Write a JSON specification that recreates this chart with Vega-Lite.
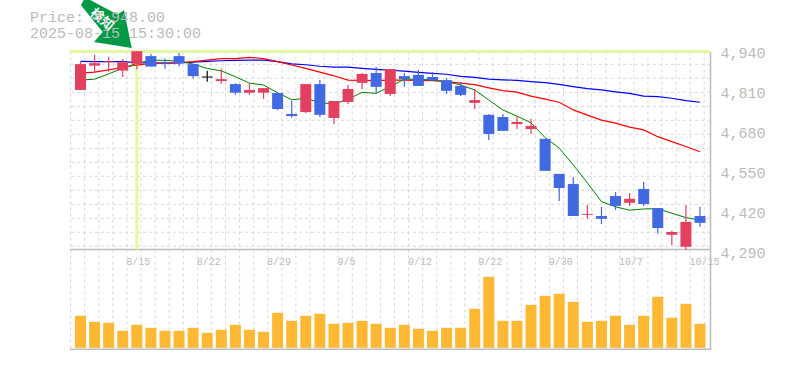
{"$schema":"https://vega.github.io/schema/vega-lite/v6.json","autosize":"none","width":640,"height":298,"padding":{"left":70,"top":51.5,"right":75,"bottom":20.5},"background":"white","title":{"text":["Price: 4,948.00","2025-08-15 15:30:00"],"anchor":"start","frame":"group","dx":-40,"offset":-44,"font":"Liberation Mono","fontSize":15,"fontWeight":"normal","color":"#bbbbbb","lineHeight":16},"config":{"view":{"stroke":null}},"datasets":{"d":[{"i":0,"date":"8/8","o":4819,"c":4903,"h":4910,"l":4819,"dir":"up","g":4851,"r":4874,"b":4912,"v":320000},{"i":1,"date":"8/12","o":4898,"c":4906,"h":4933,"l":4875,"dir":"up","g":4854,"r":4877,"b":4911,"v":260000},{"i":2,"date":"8/13","o":4909,"c":4912,"h":4927,"l":4878,"dir":"up","g":4871,"r":4884,"b":4911,"v":250000},{"i":3,"date":"8/14","o":4882,"c":4909,"h":4920,"l":4861,"dir":"up","g":4890,"r":4892,"b":4911,"v":170000},{"i":4,"date":"8/15","o":4904,"c":4945,"h":4945,"l":4886,"dir":"up","g":4905,"r":4900,"b":4908,"v":230000},{"i":5,"date":"8/18","o":4929,"c":4895,"h":4936,"l":4895,"dir":"down","g":4916,"r":4905,"b":4907,"v":200000},{"i":6,"date":"8/19","o":4910,"c":4906,"h":4922,"l":4888,"dir":"down","g":4915,"r":4906,"b":4906,"v":170000},{"i":7,"date":"8/20","o":4929,"c":4906,"h":4939,"l":4895,"dir":"down","g":4913,"r":4908,"b":4907,"v":170000},{"i":8,"date":"8/21","o":4903,"c":4864,"h":4903,"l":4856,"dir":"down","g":4903,"r":4911,"b":4909,"v":200000},{"i":9,"date":"8/22","o":4862.6,"c":4859.4,"h":4881,"l":4846,"dir":"flat","g":4889,"r":4916,"b":4912,"v":150000},{"i":10,"date":"8/25","o":4848,"c":4854,"h":4889,"l":4839,"dir":"up","g":4881,"r":4921,"b":4914,"v":180000},{"i":11,"date":"8/26","o":4838,"c":4810,"h":4841,"l":4803,"dir":"down","g":4862,"r":4921,"b":4915,"v":230000},{"i":12,"date":"8/27","o":4810,"c":4819,"h":4841,"l":4803,"dir":"up","g":4841,"r":4925,"b":4916,"v":180000},{"i":13,"date":"8/28","o":4810,"c":4825,"h":4825,"l":4790,"dir":"up","g":4835,"r":4921,"b":4916,"v":160000},{"i":14,"date":"8/29","o":4809,"c":4757,"h":4809,"l":4754,"dir":"down","g":4810,"r":4911,"b":4911,"v":350000},{"i":15,"date":"9/1","o":4741,"c":4734,"h":4783,"l":4729,"dir":"down","g":4787,"r":4900,"b":4904,"v":270000},{"i":16,"date":"9/2","o":4747,"c":4838,"h":4838,"l":4744,"dir":"up","g":4792,"r":4889,"b":4901,"v":320000},{"i":17,"date":"9/3","o":4838,"c":4738,"h":4851,"l":4731,"dir":"down","g":4778,"r":4877,"b":4896,"v":340000},{"i":18,"date":"9/4","o":4728,"c":4783,"h":4783,"l":4708,"dir":"up","g":4773,"r":4865,"b":4893,"v":240000},{"i":19,"date":"9/5","o":4780,"c":4822,"h":4835,"l":4773,"dir":"up","g":4789,"r":4851,"b":4893,"v":250000},{"i":20,"date":"9/8","o":4842,"c":4871,"h":4874,"l":4822,"dir":"up","g":4811,"r":4850,"b":4889,"v":270000},{"i":21,"date":"9/9","o":4874,"c":4829,"h":4894,"l":4809,"dir":"down","g":4808,"r":4849,"b":4886,"v":240000},{"i":22,"date":"9/10","o":4806,"c":4887,"h":4887,"l":4799,"dir":"up","g":4830,"r":4851,"b":4883,"v":200000},{"i":23,"date":"9/11","o":4864,"c":4854,"h":4874,"l":4829,"dir":"down","g":4854,"r":4851,"b":4880,"v":230000},{"i":24,"date":"9/12","o":4868,"c":4832,"h":4884,"l":4832,"dir":"down","g":4854,"r":4850,"b":4876,"v":190000},{"i":25,"date":"9/16","o":4861,"c":4850,"h":4877,"l":4848,"dir":"down","g":4851,"r":4849,"b":4873,"v":170000},{"i":26,"date":"9/17","o":4851,"c":4816,"h":4857,"l":4806,"dir":"down","g":4846,"r":4846,"b":4870,"v":200000},{"i":27,"date":"9/18","o":4832,"c":4803,"h":4845,"l":4799,"dir":"down","g":4835,"r":4841,"b":4863,"v":200000},{"i":28,"date":"9/19","o":4777,"c":4786,"h":4822,"l":4757,"dir":"up","g":4819,"r":4836,"b":4860,"v":390000},{"i":29,"date":"9/22","o":4738,"c":4676,"h":4741,"l":4656,"dir":"down","g":4786,"r":4826,"b":4854,"v":710000},{"i":30,"date":"9/24","o":4731,"c":4686,"h":4741,"l":4686,"dir":"down","g":4754,"r":4817,"b":4852,"v":270000},{"i":31,"date":"9/25","o":4708,"c":4715,"h":4731,"l":4692,"dir":"up","g":4734,"r":4812,"b":4850,"v":270000},{"i":32,"date":"9/26","o":4692,"c":4702,"h":4725,"l":4676,"dir":"up","g":4712,"r":4799,"b":4846,"v":430000},{"i":33,"date":"9/29","o":4660,"c":4556,"h":4660,"l":4556,"dir":"down","g":4664,"r":4789,"b":4843,"v":520000},{"i":34,"date":"9/30","o":4546,"c":4500,"h":4546,"l":4458,"dir":"down","g":4630,"r":4779,"b":4837,"v":540000},{"i":35,"date":"10/1","o":4513,"c":4409,"h":4536,"l":4409,"dir":"down","g":4575,"r":4754,"b":4830,"v":460000},{"i":36,"date":"10/2","o":4413,"c":4416,"h":4445,"l":4400,"dir":"up","g":4517,"r":4737,"b":4823,"v":260000},{"i":37,"date":"10/3","o":4409,"c":4400,"h":4439,"l":4383,"dir":"down","g":4456,"r":4721,"b":4819,"v":270000},{"i":38,"date":"10/6","o":4474,"c":4442,"h":4487,"l":4429,"dir":"down","g":4439,"r":4711,"b":4813,"v":320000},{"i":39,"date":"10/7","o":4452,"c":4465,"h":4484,"l":4442,"dir":"up","g":4428,"r":4698,"b":4808,"v":230000},{"i":40,"date":"10/8","o":4497,"c":4448,"h":4520,"l":4442,"dir":"down","g":4432,"r":4689,"b":4799,"v":320000},{"i":41,"date":"10/9","o":4435,"c":4370,"h":4435,"l":4351,"dir":"down","g":4433,"r":4667,"b":4797,"v":510000},{"i":42,"date":"10/10","o":4348,"c":4357,"h":4361,"l":4315,"dir":"up","g":4418,"r":4651,"b":4792,"v":300000},{"i":43,"date":"10/14","o":4309,"c":4390,"h":4445,"l":4299,"dir":"up","g":4404,"r":4635,"b":4784,"v":440000},{"i":44,"date":"10/15","o":4409,"c":4387,"h":4439,"l":4374,"dir":"down","g":4396,"r":4618,"b":4779,"v":240000}],"gx":[{"x":-0.7},{"x":0.3},{"x":1.3},{"x":2.3},{"x":3.3},{"x":4.3},{"x":5.3},{"x":6.3},{"x":7.3},{"x":8.3},{"x":9.3},{"x":10.3},{"x":11.3},{"x":12.3},{"x":13.3},{"x":14.3},{"x":15.3},{"x":16.3},{"x":17.3},{"x":18.3},{"x":19.3},{"x":20.3},{"x":21.3},{"x":22.3},{"x":23.3},{"x":24.3},{"x":25.3},{"x":26.3},{"x":27.3},{"x":28.3},{"x":29.3},{"x":30.3},{"x":31.3},{"x":32.3},{"x":33.3},{"x":34.3},{"x":35.3},{"x":36.3},{"x":37.3},{"x":38.3},{"x":39.3},{"x":40.3},{"x":41.3},{"x":42.3},{"x":43.3},{"x":44.3}],"gy":[{"y":4902.3},{"y":4856.8},{"y":4811.3},{"y":4765.8},{"y":4720.3},{"y":4674.8},{"y":4629.3},{"y":4583.8},{"y":4538.3},{"y":4492.8},{"y":4447.3},{"y":4401.8},{"y":4356.3},{"y":4310.8}],"frame":[{"y":4300},{"y":3975.5}],"hi":[{"i":4,"price":4944,"low":4300,"band":4939}],"mark":[{"i":4,"price":4945,"label":"検知"}]},"layer":[{"resolve":{"axis":{"x":"independent","y":"independent"}},"layer":[{"data":{"name":"gx"},"mark":{"type":"rule","color":"#d8d8d8","strokeWidth":1,"strokeDash":[3,3]},"encoding":{"x":{"field":"x","type":"quantitative","scale":{"domain":[-0.746,44.71],"nice":false,"zero":false,"padding":0},"axis":null}}},{"data":{"name":"gy"},"mark":{"type":"rule","color":"#d8d8d8","strokeWidth":1,"strokeDash":[3,3]},"encoding":{"y":{"field":"y","type":"quantitative","scale":{"domain":[3975,4944],"nice":false,"zero":false},"axis":null}}},{"data":{"name":"frame"},"mark":{"type":"rule","color":"#bbbbbb","strokeWidth":1.5},"encoding":{"y":{"field":"y","type":"quantitative","axis":null}}},{"data":{"name":"hi"},"mark":{"type":"rule","color":"#e4f8a4","strokeWidth":3},"encoding":{"y":{"field":"price","type":"quantitative","axis":null}}},{"data":{"name":"hi"},"mark":{"type":"rule","color":"#e4f8a4","strokeWidth":3},"encoding":{"x":{"field":"i","type":"quantitative","axis":null},"y":{"field":"band","type":"quantitative","axis":null},"y2":{"field":"low"}}},{"data":{"name":"d"},"mark":{"type":"line","color":"#0000ff","strokeWidth":1.2,"interpolate":"linear"},"encoding":{"x":{"field":"i","type":"quantitative","axis":null},"y":{"field":"b","type":"quantitative","axis":null}}},{"data":{"name":"d"},"mark":{"type":"line","color":"#ff0000","strokeWidth":1.2,"interpolate":"linear"},"encoding":{"x":{"field":"i","type":"quantitative","axis":null},"y":{"field":"r","type":"quantitative","axis":null}}},{"data":{"name":"d"},"mark":{"type":"line","color":"#008000","strokeWidth":1,"interpolate":"linear"},"encoding":{"x":{"field":"i","type":"quantitative","axis":null},"y":{"field":"g","type":"quantitative","axis":null}}},{"data":{"name":"d"},"mark":{"type":"rule","strokeWidth":1.2},"encoding":{"x":{"field":"i","type":"quantitative","axis":null},"y":{"field":"l","type":"quantitative","axis":null},"y2":{"field":"h"},"color":{"field":"dir","type":"nominal","legend":null,"scale":{"domain":["up","down","flat"],"range":["#e2405f","#4169e1","#000000"]}}}},{"data":{"name":"d"},"mark":{"type":"bar","size":11},"encoding":{"x":{"field":"i","type":"quantitative","axis":{"values":[4,9,14,19,24,29,34,39,44],"labelExpr":"['8/15','8/22','8/29','9/5','9/12','9/22','9/30','10/7','10/15'][(datum.value-4)/5]","orient":"bottom","offset":-88,"domain":false,"ticks":false,"grid":false,"title":null,"labelAlign":"left","labelOffset":-11,"labelBaseline":"middle","labelPadding":0,"labelFont":"Liberation Mono","labelFontSize":10,"labelColor":"#bbbbbb","labelFlush":false,"labelOverlap":false}},"y":{"field":"o","type":"quantitative","axis":{"orient":"right","values":[4290,4420,4550,4680,4810,4940],"format":",.0f","domain":true,"domainColor":"#bbbbbb","domainWidth":1.5,"ticks":false,"grid":false,"title":null,"labelPadding":10,"labelFont":"Liberation Mono","labelFontSize":15,"labelColor":"#bbbbbb","labelBaseline":"middle","labelFlush":false}},"y2":{"field":"c"},"color":{"field":"dir","type":"nominal","legend":null}}},{"data":{"name":"mark"},"mark":{"type":"point","filled":true,"opacity":1,"color":"#009944","strokeWidth":0,"size":10000,"shape":"M-0.102 -0.066 L-0.256 -0.82 L-0.39 -0.734 L-1.036 -1.08 L-1.116 -0.92 L-0.682 -0.386 L-0.856 -0.186 Z"},"encoding":{"x":{"field":"i","type":"quantitative","axis":null},"y":{"field":"price","type":"quantitative","axis":null}}},{"data":{"name":"mark"},"mark":{"type":"text","color":"white","font":"Noto Sans CJK JP","fontSize":13,"fontWeight":"bold","angle":40,"dx":-47,"dy":-1.8,"align":"center","baseline":"middle"},"encoding":{"x":{"field":"i","type":"quantitative","axis":null},"y":{"field":"price","type":"quantitative","axis":null},"text":{"field":"label"}}}]},{"data":{"name":"d"},"mark":{"type":"bar","size":11,"color":"#ffb833"},"encoding":{"x":{"field":"i","type":"quantitative","axis":null},"y":{"field":"v","type":"quantitative","axis":null,"scale":{"domain":[-17000,2963000],"nice":false,"zero":false}}}}],"resolve":{"scale":{"y":"independent"},"axis":{"x":"independent"}}}
